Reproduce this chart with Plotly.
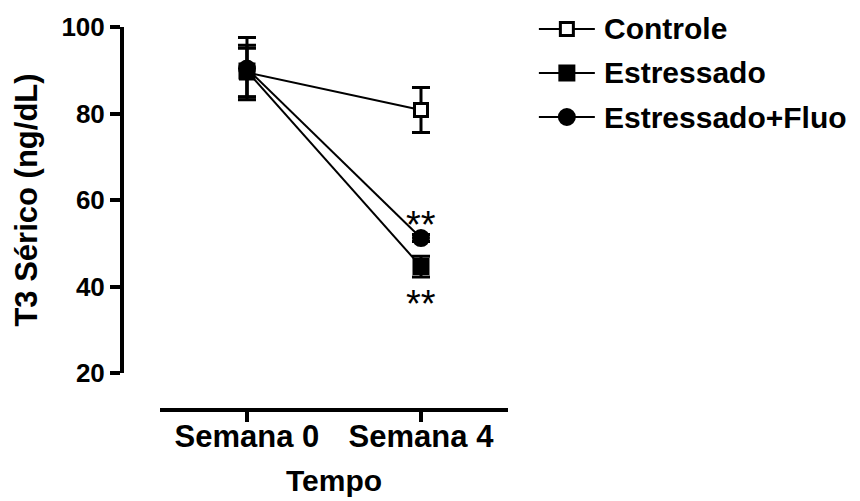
import plotly.graph_objects as go

weeks = ["Semana 0", "Semana 4"]
series = ["Controle", "Estressado", "Estressado+Fluo"]
controle = [89.5, 80.8]
controle_err = [5.6, 5.2]
estressado = [89.8, 44.6]
estressado_err = [6.0, 2.4]
fluo = [90.4, 51.2]
fluo_err = [7.2, 0.8]
y_ticks = [20, 40, 60, 80, 100]
stars = ["**", "**"]
star_y = [54.3, 36.0]

FONT = "Arial, Liberation Sans, sans-serif"

styles = [
    dict(symbol="square", color="white", size=13),
    dict(symbol="square", color="black", size=14),
    dict(symbol="circle", color="black", size=15),
]

traces = list(zip(series, [controle, estressado, fluo],
                  [controle_err, estressado_err, fluo_err], styles))

fig = go.Figure()
# draw the filled square last so it sits on top at Semana 0, as in the original
for name, vals, errs, st in [traces[0], traces[2], traces[1]]:
    fig.add_trace(go.Scatter(
        x=[0, 1], y=vals, name=name, mode="lines+markers",
        line=dict(color="black", width=2),
        marker=dict(symbol=st["symbol"], size=st["size"], color=st["color"],
                    line=dict(color="black", width=3)),
        error_y=dict(type="data", array=errs, color="black", thickness=3, width=9),
        showlegend=False,
    ))

# significance marks
for txt, yv in zip(stars, star_y):
    fig.add_annotation(x=1, y=yv, text=txt, showarrow=False,
                       font=dict(family=FONT, size=38, color="black"))

# hand-drawn legend (long line glyphs as in the original)
rows_y = [0.995, 0.880, 0.765]
for name, st, ry in zip(series, styles, rows_y):
    fig.add_shape(type="line", xref="paper", yref="paper",
                  x0=1.080, x1=1.225, y0=ry, y1=ry,
                  line=dict(color="black", width=2))
    s = st["size"] / 2
    fig.add_shape(type="rect" if st["symbol"] == "square" else "circle",
                  xref="paper", yref="paper", xsizemode="pixel", ysizemode="pixel",
                  xanchor=1.1525, yanchor=ry, x0=-s, x1=s, y0=-s, y1=s,
                  fillcolor=st["color"], line=dict(color="black", width=3))
    fig.add_annotation(x=1.2435, y=ry, xref="paper", yref="paper", text=name,
                       showarrow=False, xanchor="left", yanchor="middle",
                       font=dict(family=FONT, size=30, color="black", weight="bold"))

# page body has an 8px margin, so the figure is 8px smaller and margins shifted
fig.update_layout(
    template="none",
    width=852, height=493,
    margin=dict(l=114, r=352, t=19, b=91),
    plot_bgcolor="white", paper_bgcolor="white",
    font=dict(family=FONT, color="black"),
    showlegend=False,
)
fig.update_xaxes(
    domain=[0.0984, 1], range=[-0.5, 1.5], anchor="free", position=0,
    automargin=False,
    tickvals=[0, 1], ticktext=weeks,
    showline=True, linecolor="black", linewidth=4,
    ticks="outside", ticklen=10, tickwidth=4, tickcolor="black",
    ticklabelstandoff=-12,
    showgrid=False, zeroline=False,
    tickfont=dict(family=FONT, size=31, weight="bold"),
    title=dict(text="Tempo", font=dict(family=FONT, size=30, weight="bold"), standoff=16),
)
fig.update_yaxes(
    domain=[0.0966, 1], range=[20, 100], anchor="free", position=0,
    automargin=False,
    tickvals=y_ticks,
    showline=True, linecolor="black", linewidth=4,
    ticks="outside", ticklen=10, tickwidth=4, tickcolor="black",
    showgrid=False, zeroline=False,
    tickfont=dict(family=FONT, size=26, weight="bold"),
    title=dict(text="T3 Sérico (ng/dL)", font=dict(family=FONT, size=31, weight="bold"), standoff=14),
)

fig.write_html("out.html")
